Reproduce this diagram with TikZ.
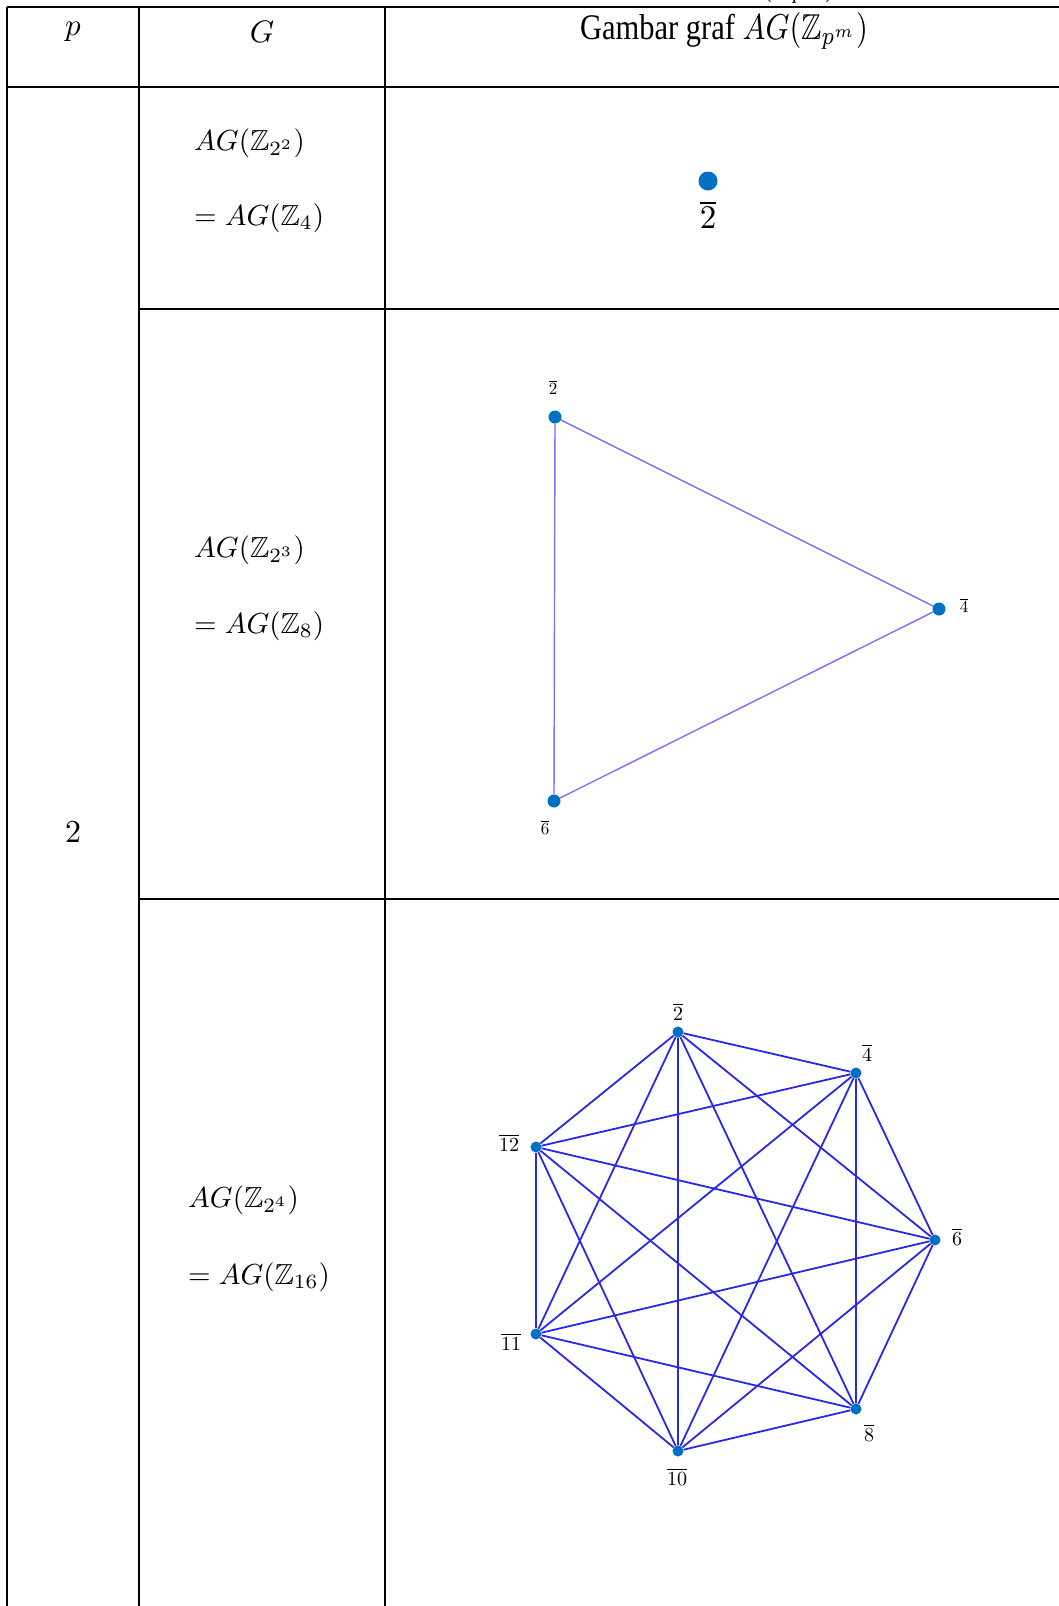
\documentclass[tikz,border=0pt]{standalone}
\usepackage{amsmath,amssymb}
\usepackage{fontspec}
\setmainfont{Liberation Serif}
\usepackage{graphicx}
\usepackage{tikz}
\usetikzlibrary{positioning}
\definecolor{dotblue}{RGB}{0,112,192}
\definecolor{edgelight}{RGB}{115,115,255}
\definecolor{edgeblue}{RGB}{40,40,235}
% 10pt text blown up to the size of the scan
\newcommand{\enlarge}[2][2.9]{\scalebox{#1}{#2}}

\begin{document}
\begin{tikzpicture}[x=1pt, y=-1pt,
  every node/.style={inner sep=0pt},
  rule/.style={line width=2pt},
  cell/.style={anchor=west},
  vdot/.style={circle, fill=dotblue, inner sep=0pt, minimum size=#1},
  vdot/.default=13pt,
  triedge/.style={draw=edgelight, line width=1.4pt},
  kedge/.style={draw=edgeblue, line width=1.8pt}
]
\useasboundingbox (0,0) rectangle (1059,1606);

% table rules
\draw[rule] (7,7) -- (1063,7);
\draw[rule] (7,87) -- (1063,87);
\draw[rule] (139,309) -- (1063,309);
\draw[rule] (139,899) -- (1063,899);
\draw[rule] (7,7) -- (7,1610);
\draw[rule] (139,7) -- (139,1610);
\draw[rule] (385,7) -- (385,1610);
\draw[rule] (1063,7) -- (1063,1610);

% caption line, cut by the page top
\node[anchor=base east] (capt) at (836,-5) {\enlarge{$(\mathbb{Z}_{p^m})$}};

% header
\node (hp) at (73,32) {\enlarge[3.1]{$p$}};
\node (hg) at (262,32) {\enlarge[3.1]{$G$}};
\node (hgraf) at (724,31) {\scalebox{3.05}[3.6]{Gambar graf $AG(\mathbb{Z}_{p^m})$}};
\node (pval) at (73,832) {\enlarge[3.2]{$2$}};

% column G
\node[cell] (ga) at (194,143) {\enlarge{$AG(\mathbb{Z}_{2^2})$}};
\node[cell] (gb) at (194,218) {\enlarge{$= AG(\mathbb{Z}_4)$}};
\node[cell] (gc) at (194,550) {\enlarge{$AG(\mathbb{Z}_{2^3})$}};
\node[cell] (gd) at (194,626) {\enlarge{$= AG(\mathbb{Z}_8)$}};
\node[cell] (ge) at (188,1200) {\enlarge{$AG(\mathbb{Z}_{2^4})$}};
\node[cell] (gf) at (188,1277) {\enlarge{$= AG(\mathbb{Z}_{16})$}};

% AG(Z_4)
\node[vdot=19pt] (a2) at (708,181) {};
\node (a2l) at (708,215) {\enlarge[3.3]{$\overline{2}$}};

% AG(Z_8)
\node[vdot] (t2) at (555,417) {};
\node[vdot] (t4) at (939,609) {};
\node[vdot] (t6) at (554,801) {};
\node (t2l) at (553,387) {\enlarge[1.7]{$\overline{2}$}};
\node (t4l) at (964,605) {\enlarge[1.7]{$\overline{4}$}};
\node (t6l) at (545,827) {\enlarge[1.7]{$\overline{6}$}};
\draw[triedge] (t2) -- (t4) -- (t6) -- (t2);

% AG(Z_16)
\node[vdot=11pt] (h2) at (678,1032) {};
\node[vdot=11pt] (h4) at (856,1073) {};
\node[vdot=11pt] (h6) at (935,1240) {};
\node[vdot=11pt] (h8) at (856,1409) {};
\node[vdot=11pt] (h10) at (678,1451) {};
\node[vdot=11pt] (h11) at (536,1334) {};
\node[vdot=11pt] (h12) at (536,1147) {};
\node (h2l) at (678,1012) {\enlarge[2]{$\overline{2}$}};
\node (h4l) at (867,1053) {\enlarge[2]{$\overline{4}$}};
\node (h6l) at (957,1237) {\enlarge[2]{$\overline{6}$}};
\node (h8l) at (869,1433) {\enlarge[2]{$\overline{8}$}};
\node (h10l) at (677,1477) {\enlarge[2]{$\overline{10}$}};
\node (h11l) at (511,1342) {\enlarge[2]{$\overline{11}$}};
\node (h12l) at (509,1143) {\enlarge[2]{$\overline{12}$}};
\draw[kedge] (h2) -- (h4) (h2) -- (h6) (h2) -- (h8) (h2) -- (h10) (h2) -- (h11) (h2) -- (h12);
\draw[kedge] (h4) -- (h6) (h4) -- (h8) (h4) -- (h10) (h4) -- (h11) (h4) -- (h12);
\draw[kedge] (h6) -- (h8) (h6) -- (h10) (h6) -- (h11) (h6) -- (h12);
\draw[kedge] (h8) -- (h10) (h8) -- (h11) (h8) -- (h12);
\draw[kedge] (h10) -- (h11) (h10) -- (h12);
\draw[kedge] (h11) -- (h12);
\end{tikzpicture}
\end{document}
